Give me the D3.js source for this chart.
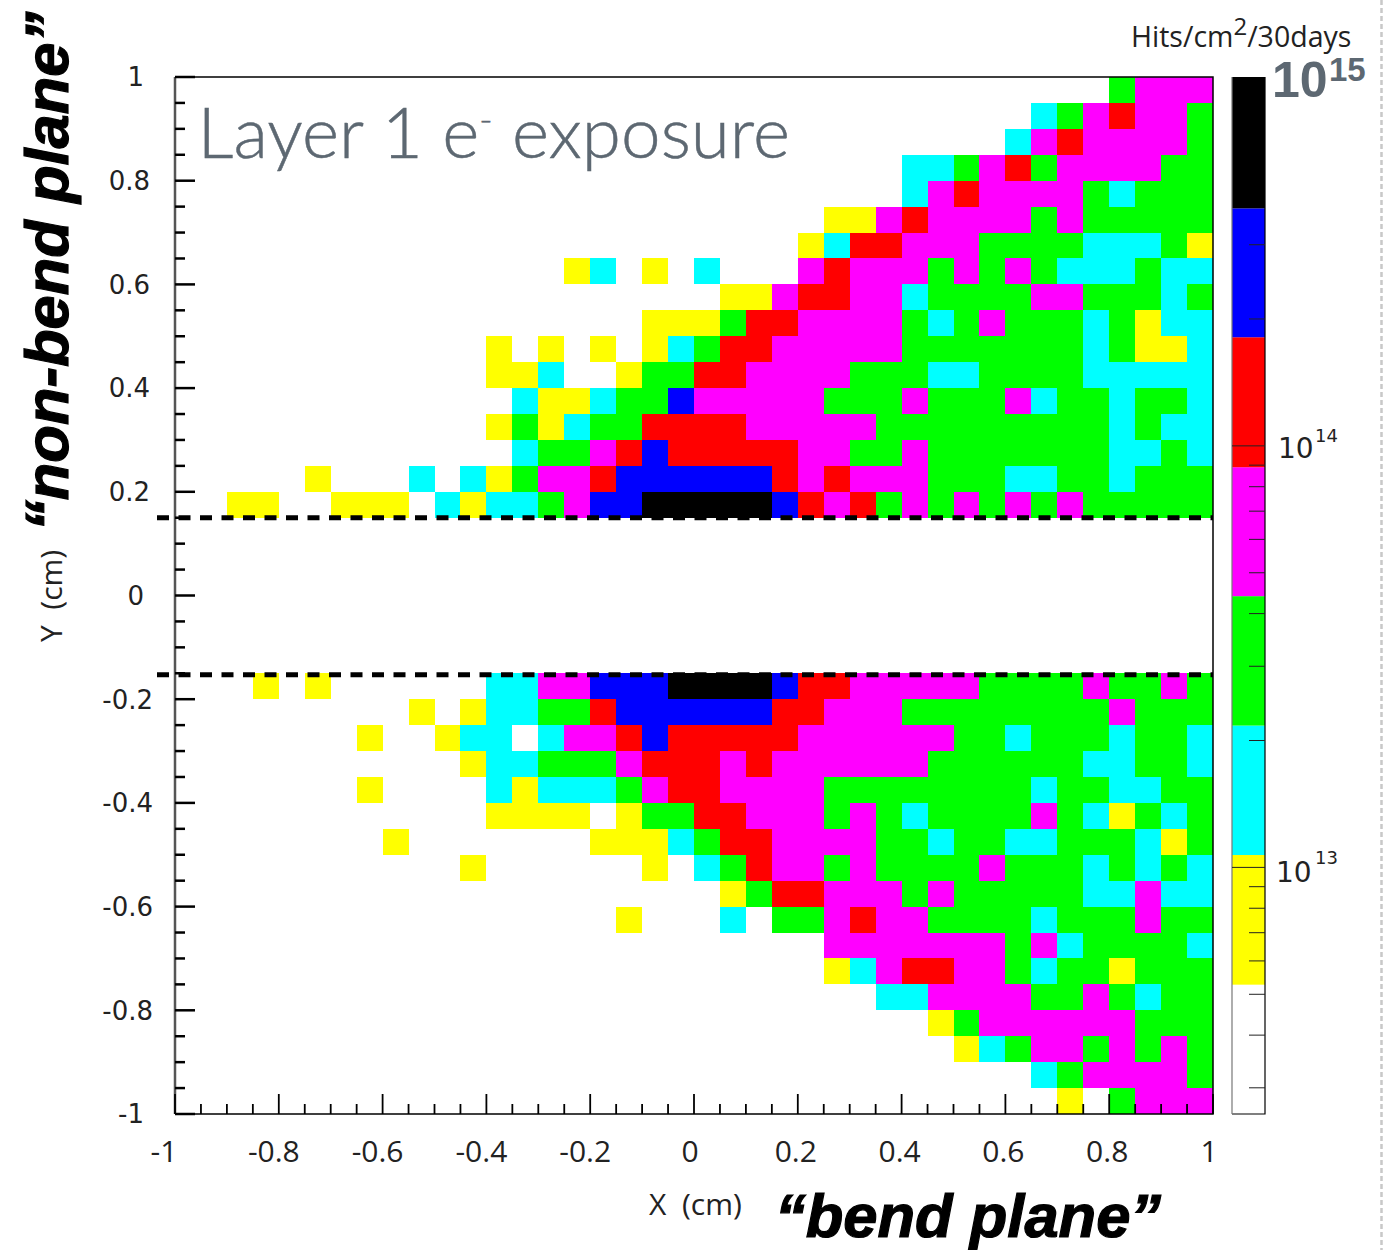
<!DOCTYPE html>
<html>
<head>
<meta charset="utf-8">
<script src="https://d3js.org/d3.v7.min.js"></script>
<style>
  html, body { margin: 0; padding: 0; background: #fff; }
  svg { display: block; }
</style>
</head>
<body>
<svg id="chart" width="1384" height="1250"></svg>
<script>
// colour level per cell, rows run top to bottom (y = 1 to -1), columns x = -1 to 1
// 0 empty, 1 yellow, 2 cyan, 3 green, 4 magenta, 5 red, 6 blue, 7 black
const levelRows = [
  '0000000000 0000000000 0000000000 0000003444',
  '0000000000 0000000000 0000000000 0002345443',
  '0000000000 0000000000 0000000000 0024544443',
  '0000000000 0000000000 0000000022 3453444433',
  '0000000000 0000000000 0000000024 5444432333',
  '0000000000 0000000000 0000011454 4443433333',
  '0000000000 0000000000 0000125544 4333322231',
  '0000000000 0000012010 2000454443 4343222322',
  '0000000000 0000000000 0114554423 3334433323',
  '0000000000 0000000011 1355444432 3433323122',
  '0000000000 0010101012 3554444433 3333323112',
  '0000000000 0011200133 5544443332 2333322222',
  '0000000000 0002112336 4444433343 3342332332',
  '0000000000 0013123355 5544444333 3333332322',
  '0000000000 0002334565 5555443343 3333332232',
  '0000010002 0213445666 6665454443 3322332333',
  '0011001110 2122346677 7776545343 4343433333',
  '0000000000 0000000000 0000000000 0000000000',
  '0000000000 0000000000 0000000000 0000000000',
  '0000000000 0000000000 0000000000 0000000000',
  '0000000000 0000000000 0000000000 0000000000',
  '0000000000 0000000000 0000000000 0000000000',
  '0000000000 0000000000 0000000000 0000000000',
  '0001010000 0022446667 7776554444 4333343343',
  '0000000001 0122335666 6665544433 3333334333',
  '0000000100 1220244565 5555444444 3323332332',
  '0000000000 0122333455 5454444443 3333322332',
  '0000000100 0021222345 5444433333 3332332233',
  '0000000000 0011110133 5544434323 3334321323',
  '0000000010 0000001112 3554444332 3322333213',
  '0000000000 0100000010 2354434333 3433323232',
  '0000000000 0000000000 0135544434 3333322422',
  '0000000000 0000000100 0203345443 3332333433',
  '0000000000 0000000000 0000044444 4434233332',
  '0000000000 0000000000 0000012455 4432331333',
  '0000000000 0000000000 0000000224 4443343233',
  '0000000000 0000000000 0000000001 3444444333',
  '0000000000 0000000000 0000000000 1234434343',
  '0000000000 0000000000 0000000000 0002344443',
  '0000000000 0000000000 0000000000 0000103444'
];
const levelColors = ['#ffffff', '#ffff00', '#00ffff', '#00ff00', '#ff00ff', '#ff0000', '#0000ff', '#000000'];
// contour edges of the colour bar, hits/cm2/30days
const levelEdges = [2.6e12, 5.27e12, 1.07e13, 2.17e13, 4.4e13, 8.9e13, 1.81e14, 3.66e14, 7.5e14];
const barTicks = [3e12, 4e12, 5e12, 6e12, 7e12, 8e12, 9e12, 1e13, 2e13, 3e13, 4e13, 5e13, 6e13, 7e13, 8e13, 9e13, 1e14, 2e14, 3e14];
const axisMajor = [-1, -0.8, -0.6, -0.4, -0.2, 0, 0.2, 0.4, 0.6, 0.8, 1];
const axisMinor = d3.range(-19, 20).map(d => d * 0.05);
const gapEdges = [0.15, -0.153];

const svg = d3.select('#chart');
const plotLeft = 175, plotRight = 1213, plotTop = 77, plotBottom = 1114;

const xScale = d3.scaleLinear().domain([-1, 1]).range([plotLeft, plotRight]);
const yScale = d3.scaleLinear().domain([-1, 1]).range([plotBottom, plotTop]);
const cells = [];
levelRows.forEach((row, r) => {
  row.replace(/ /g, '').split('').forEach((ch, c) => {
    if (+ch > 0) cells.push({ x: -1 + c * 0.05, y: 1 - r * 0.05, level: +ch });
  });
});

svg.append('g')
  .attr('shape-rendering', 'crispEdges')
  .selectAll('rect')
  .data(cells)
  .enter()
  .append('rect')
  .attr('x', d => xScale(d.x))
  .attr('y', d => yScale(d.y))
  .attr('width', xScale(0.05) - xScale(0))
  .attr('height', yScale(0) - yScale(0.05))
  .attr('fill', d => levelColors[d.level]);

// frame
svg.append('path')
  .attr('d', `M${plotLeft},${plotTop}H${plotRight}V${plotBottom}H${plotLeft}`)
  .attr('fill', 'none')
  .attr('stroke', '#000')
  .attr('stroke-width', 1.5);
svg.append('line')
  .attr('x1', plotLeft).attr('x2', plotLeft).attr('y1', plotTop).attr('y2', plotBottom)
  .attr('stroke', '#555').attr('stroke-width', 2.5);

// y ticks
const minorOnly = axisMinor.filter(d => !axisMajor.some(m => Math.abs(m - d) < 1e-6));
const yAxis = svg.append('g').attr('transform', `translate(${plotLeft},0)`);
yAxis.selectAll('line.minor').data(minorOnly)
  .enter().append('line').attr('class', 'minor')
  .attr('x2', 10).attr('y1', d => yScale(d)).attr('y2', d => yScale(d))
  .attr('stroke', '#000').attr('stroke-width', 2.5);
yAxis.selectAll('line.major').data(axisMajor)
  .enter().append('line').attr('class', 'major')
  .attr('x2', 20).attr('y1', d => yScale(d)).attr('y2', d => yScale(d))
  .attr('stroke', '#000').attr('stroke-width', 2.5);
yAxis.selectAll('text').data(axisMajor)
  .enter().append('text')
  .attr('x', d => Number.isInteger(d) ? -31 : (d < 0 ? -22 : -25))
  .attr('y', d => yScale(d) + 1)
  .attr('dy', '0.32em')
  .attr('text-anchor', 'end')
  .attr('font-family', 'DejaVu Sans')
  .attr('font-size', 26)
  .attr('fill', '#222')
  .text(d => String(d));

// x ticks
const xAxis = svg.append('g').attr('transform', `translate(0,${plotBottom})`);
xAxis.selectAll('line.minor').data(minorOnly)
  .enter().append('line').attr('class', 'minor')
  .attr('y2', -10).attr('x1', d => xScale(d)).attr('x2', d => xScale(d))
  .attr('stroke', '#000').attr('stroke-width', 1.8);
xAxis.selectAll('line.major').data(axisMajor)
  .enter().append('line').attr('class', 'major')
  .attr('y2', -20).attr('x1', d => xScale(d)).attr('x2', d => xScale(d))
  .attr('stroke', '#000').attr('stroke-width', 1.8);
xAxis.selectAll('text').data(axisMajor)
  .enter().append('text')
  .attr('x', d => xScale(d) + (d === -1 ? -11 : (d === 1 ? -4 : (d === 0 ? -4 : (d < 0 ? -5 : -2)))))
  .attr('y', 48)
  .attr('text-anchor', 'middle')
  .attr('font-family', 'Open Sans')
  .attr('font-size', 30)
  .attr('fill', '#222')
  .text(d => String(d));

// dashed edges of the beam gap
svg.append('g').selectAll('line').data(gapEdges)
  .enter().append('line')
  .attr('x1', 157).attr('x2', plotRight)
  .attr('y1', d => yScale(d)).attr('y2', d => yScale(d))
  .attr('stroke', '#000').attr('stroke-width', 5)
  .attr('stroke-dasharray', '12,9.5');

// colour bar
const barScale = d3.scaleLog().domain([levelEdges[0], levelEdges[8]]).range([plotBottom, plotTop]);
const barX = 1232, barW = 33;
svg.append('g').selectAll('rect')
  .data(levelColors)
  .enter().append('rect')
  .attr('x', barX)
  .attr('y', (d, i) => barScale(levelEdges[i + 1]))
  .attr('width', barW)
  .attr('height', (d, i) => barScale(levelEdges[i]) - barScale(levelEdges[i + 1]))
  .attr('fill', d => d);
svg.append('path')
  .attr('d', `M${barX},${plotBottom}H${barX + barW}V${plotTop}`)
  .attr('fill', 'none').attr('stroke', '#000').attr('stroke-width', 1.2);
svg.append('line')
  .attr('x1', barX).attr('x2', barX).attr('y1', plotTop).attr('y2', plotBottom)
  .attr('stroke', '#777').attr('stroke-width', 1.2);
svg.append('g').selectAll('line').data(barTicks)
  .enter().append('line')
  .attr('x1', d => (d === 1e13 || d === 1e14) ? barX : barX + 17)
  .attr('x2', barX + barW)
  .attr('y1', d => barScale(d)).attr('y2', d => barScale(d))
  .attr('stroke', '#222').attr('stroke-width', 1);

function powerLabel(x, y, exp, dx, up) {
  const g = svg.append('g').attr('font-family', 'DejaVu Sans').attr('fill', '#222');
  g.append('text').attr('x', x).attr('y', y).attr('font-size', 28).text('10');
  g.append('text').attr('x', x + dx).attr('y', y - up).attr('font-size', 18).text(exp);
}
powerLabel(1278, 458, '14', 37, 16);
powerLabel(1276, 882, '13', 39, 18);

// 10^15 pasted on top of the bar
const top15 = svg.append('g').attr('font-family', 'Liberation Sans').attr('font-weight', 'bold').attr('fill', '#5d6872');
top15.append('text').attr('x', 1272).attr('y', 97).attr('font-size', 50).text('10');
top15.append('text').attr('x', 1329).attr('y', 81).attr('font-size', 33).text('15');

// bar title
const barTitle = svg.append('text').attr('x', 1131).attr('y', 47)
  .attr('font-family', 'Open Sans').attr('font-size', 28.5).attr('fill', '#222');
barTitle.append('tspan').text('Hits/cm');
barTitle.append('tspan').attr('dy', -12).attr('font-size', 24).text('2');
barTitle.append('tspan').attr('dy', 12).text('/30days');

// exposure title
const title = svg.append('text').attr('x', 197.5).attr('y', 158)
  .attr('font-family', 'Lato').attr('font-weight', 300).attr('font-size', 71).attr('fill', '#5d6872')
  .attr('stroke', '#5d6872').attr('stroke-width', 0.5);
title.append('tspan').text('Layer 1 e');
title.append('tspan').attr('dy', -26).attr('font-size', 36).text('-');
title.append('tspan').attr('dy', 26).text(' exposure');

// axis titles
svg.append('text').attr('x', 649).attr('y', 1215)
  .attr('font-family', 'Open Sans').attr('font-size', 30).attr('fill', '#222')
  .attr('xml:space', 'preserve').text('X  (cm)');
svg.append('text').attr('transform', 'translate(62,642) rotate(-90)')
  .attr('font-family', 'Open Sans').attr('font-size', 30).attr('fill', '#222')
  .attr('xml:space', 'preserve').text('Y  (cm)');
svg.append('text').attr('x', 775).attr('y', 1236.5)
  .attr('font-family', 'Liberation Sans').attr('font-weight', 'bold').attr('font-style', 'italic')
  .attr('font-size', 61.5).attr('fill', '#000').attr('stroke', '#000').attr('stroke-width', 1.2)
  .text('\u201Cbend plane\u201D');
svg.append('text').attr('transform', 'translate(68,531) rotate(-90)')
  .attr('font-family', 'Liberation Sans').attr('font-weight', 'bold').attr('font-style', 'italic')
  .attr('font-size', 61.5).attr('fill', '#000').attr('stroke', '#000').attr('stroke-width', 1.2)
  .text('\u201Cnon-bend plane\u201D');

// page edge of the source slide
svg.append('line').attr('x1', 1381.5).attr('x2', 1381.5).attr('y1', 0).attr('y2', 1250)
  .attr('stroke', '#c8c8c8').attr('stroke-width', 2.5).attr('stroke-dasharray', '5,3');
</script>
</body>
</html>
